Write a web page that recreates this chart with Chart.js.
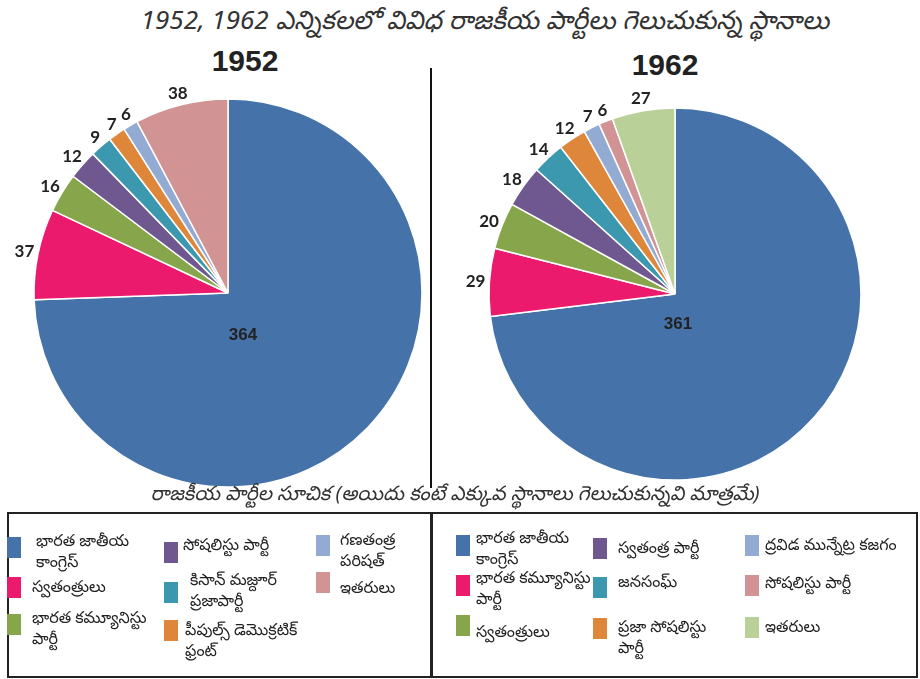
<!DOCTYPE html>
<html><head><meta charset="utf-8">
<script src="https://cdn.jsdelivr.net/npm/chart.js@4.4.1/dist/chart.umd.min.js"></script>
<style>
html,body{margin:0;padding:0;background:#fff;}
body{width:920px;height:679px;position:relative;overflow:hidden;font-family:"Noto Sans","Noto Sans Telugu",sans-serif;color:#222;}
.abs{position:absolute;}
#title{left:0;width:970px;top:3px;text-align:center;font-style:italic;font-size:26px;color:#333;white-space:nowrap;line-height:32px;}
.year{font-family:"Liberation Sans",Arial,sans-serif;font-weight:bold;font-size:30px;color:#222;width:120px;text-align:center;line-height:30px;}
#sub{left:0;width:910px;top:479px;text-align:center;font-style:italic;font-size:20px;color:#333;white-space:nowrap;line-height:27px;}
#vline{left:430px;top:68px;width:2px;height:420px;background:#111;z-index:5;}
.box{border:2px solid #222;box-sizing:border-box;}
.sw{position:absolute;width:14px;height:21px;}
.lt{position:absolute;font-size:16px;line-height:21px;white-space:pre;color:#222;}
canvas{position:absolute;}
</style></head>
<body>
<div id="title" class="abs">1952, 1962 ఎన్నికలలో వివిధ రాజకీయ పార్టీలు గెలుచుకున్న స్థానాలు</div>
<div class="abs year" style="left:185px;top:46px;">1952</div>
<div class="abs year" style="left:605px;top:50px;">1962</div>
<canvas id="c1" width="456" height="440" style="left:0;top:73px;"></canvas>
<canvas id="c2" width="490" height="440" style="left:430px;top:74px;"></canvas>
<div id="vline" class="abs"></div>
<div id="sub" class="abs">రాజకీయ పార్టీల సూచిక (అయిదు కంటే ఎక్కువ స్థానాలు గెలుచుకున్నవి మాత్రమే)</div>
<div class="abs box" style="left:7px;top:512px;width:425px;height:166px;"></div>
<div class="abs box" style="left:431px;top:512px;width:487px;height:166px;"></div>
<div id="legends"></div>
<script>
// ---- data ----
const categories1952 = ['భారత జాతీయ\nకాంగ్రెస్', 'స్వతంత్రులు', 'భారత కమ్యూనిస్టు\nపార్టీ', 'సోషలిస్టు పార్టీ', 'కిసాన్ మజ్దూర్\nప్రజాపార్టీ', 'పీపుల్స్ డెమొక్రటిక్\nఫ్రంట్', 'గణతంత్ర\nపరిషత్', 'ఇతరులు'];
const seats1952 = [364, 37, 16, 12, 9, 7, 6, 38];
const categories1962 = ['భారత జాతీయ\nకాంగ్రెస్', 'భారత కమ్యూనిస్టు\nపార్టీ', 'స్వతంత్రులు', 'స్వతంత్ర పార్టీ', 'జనసంఘ్', 'ప్రజా సోషలిస్టు\nపార్టీ', 'ద్రవిడ మున్నేట్ర కజగం', 'సోషలిస్టు పార్టీ', 'ఇతరులు'];
const seats1962 = [361, 29, 20, 18, 14, 12, 7, 6, 27];

// ---- styles ----
const colors1952 = ['#4472a9', '#ec1a6c', '#87a54b', '#6f5890', '#3b98ae', '#de863a', '#93aad3', '#d19394'];
const colors1962 = ['#4472a9', '#ec1a6c', '#87a54b', '#6f5890', '#3b98ae', '#de863a', '#93aad3', '#d19394', '#b9d098'];
// legend slot positions: [swatchX, swatchY, textX, textY]
const legendPos1952 = [[7,537,36,530],[7,577,32,576],[7,614,32,607],[164,542,183,534],[164,582,190,569],[164,620,185,619],[316,535,340,529],[316,572,340,577]];
const legendPos1962 = [[456,535,476,527],[456,575,476,567],[456,615,476,621],[593,538,618,537],[593,577,618,571],[593,618,618,616],[745,535,765,534],[745,575,765,572],[745,617,765,616]];

function buildLegend(cats, cols, pos) {
  const host = document.getElementById('legends');
  cats.forEach((c, i) => {
    const s = document.createElement('div');
    s.className = 'sw'; s.style.left = pos[i][0] + 'px'; s.style.top = pos[i][1] + 'px'; s.style.background = cols[i];
    host.appendChild(s);
    const t = document.createElement('div');
    t.className = 'lt'; t.style.left = pos[i][2] + 'px'; t.style.top = pos[i][3] + 'px'; t.textContent = c;
    host.appendChild(t);
  });
}
buildLegend(categories1952, colors1952, legendPos1952);
buildLegend(categories1962, colors1962, legendPos1962);

const sliceLabels = {
  id: 'sliceLabels',
  afterDatasetsDraw(chart, args, opts) {
    const ctx = chart.ctx;
    const meta = chart.getDatasetMeta(0);
    const data = chart.data.datasets[0].data;
    ctx.save();
    ctx.textAlign = 'center';
    ctx.textBaseline = 'middle';
    ctx.fillStyle = '#222';
    meta.data.forEach((arc, i) => {
      const p = arc.getProps(['x', 'y', 'startAngle', 'endAngle', 'outerRadius'], true);
      const text = String(data[i]);
      if (i === 0) {
        ctx.font = opts.innerFont;
        ctx.fillText(text, p.x + opts.innerOffset[0], p.y + opts.innerOffset[1]);
        return;
      }
      const mid = (p.startAngle + p.endAngle) / 2;
      ctx.font = opts.outerFont;
      const w = ctx.measureText(text).width;
      const h = opts.textHeight;
      const ax = p.x + Math.cos(mid) * (p.outerRadius + opts.gap);
      const ay = p.y + Math.sin(mid) * (p.outerRadius + opts.gap);
      ctx.fillText(text, ax + Math.cos(mid) * w / 2, ay + Math.sin(mid) * h / 2);
    });
    ctx.restore();
  }
};

function makePie(id, cats, vals, cols, radius, innerOffset) {
  return new Chart(document.getElementById(id), {
    type: 'pie',
    data: { labels: cats, datasets: [{ data: vals, backgroundColor: cols, borderColor: '#ffffff', borderWidth: 1.5 }] },
    options: {
      responsive: false, animation: false, radius: radius,
      layout: { padding: 0 },
      plugins: {
        legend: { display: false }, tooltip: { enabled: false },
        sliceLabels: { innerFont: 'bold 17px "Liberation Sans", Arial, sans-serif', outerFont: 'bold 17px Lato, "Open Sans", sans-serif', textHeight: 16, gap: 4, innerOffset: innerOffset }
      }
    },
    plugins: [sliceLabels]
  });
}
makePie('c1', categories1952, seats1952, colors1952, 194, [15, 42]);
makePie('c2', categories1962, seats1962, colors1962, 186, [3, 30]);
</script>
</body></html>
